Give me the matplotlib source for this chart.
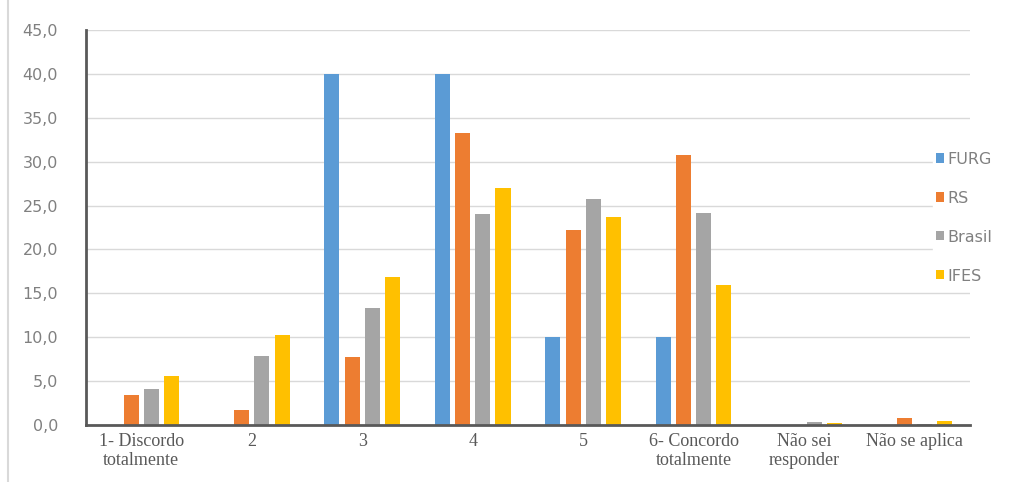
import numpy as np
import matplotlib.pyplot as plt
from matplotlib.lines import Line2D

categories = ['1- Discordo\ntotalmente', '2', '3', '4', '5',
              '6- Concordo\ntotalmente', 'Não sei\nresponder', 'Não se aplica']
furg = [0, 0, 40.0, 40.0, 10.0, 10.0, 0, 0]
rs = [3.4, 1.7, 7.7, 33.3, 22.2, 30.8, 0, 0.8]
brasil = [4.1, 7.9, 13.3, 24.0, 25.8, 24.2, 0.3, 0.1]
ifes = [5.6, 10.2, 16.9, 27.0, 23.7, 15.9, 0.2, 0.4]
series_names = ['FURG', 'RS', 'Brasil', 'IFES']
colors = ['#5B9BD5', '#ED7D31', '#A5A5A5', '#FFC000']

fig = plt.figure(figsize=(10.09, 4.82), dpi=100)
ax = fig.add_axes([0.0852, 0.1183, 0.876, 0.8195])

x = np.arange(len(categories))
width = 0.136   # bar width
pitch = 0.183   # distance between bars in a group
for i, (vals, name, c) in enumerate(zip([furg, rs, brasil, ifes], series_names, colors)):
    ax.bar(x + (i - 1.5) * pitch, vals, width, color=c, label=name, zorder=3)

ax.set_xlim(-0.5, len(categories) - 0.5)
ax.set_ylim(0, 45)
ax.set_yticks(np.arange(0, 46, 5))
ax.set_yticklabels([f'{v:.1f}'.replace('.', ',') for v in np.arange(0, 46, 5)],
                   family='DejaVu Sans', fontsize=11.5, color='#808080')
ax.set_xticks(x)
ax.set_xticklabels(categories, family='Liberation Serif', fontsize=13,
                   color='#595959', linespacing=1.1)
ax.tick_params(axis='y', length=0, pad=20)
ax.tick_params(axis='x', length=0, pad=6)

ax.grid(axis='y', color='#d9d9d9', linewidth=1, zorder=0)
for s in ['top', 'right']:
    ax.spines[s].set_visible(False)
for s in ['left', 'bottom']:
    ax.spines[s].set_color('#595959')
    ax.spines[s].set_linewidth(2)
    ax.spines[s].set_zorder(4)

leg = ax.legend(loc='center left', bbox_to_anchor=(0.958, 0.525), frameon=True,
                framealpha=1, edgecolor='white', handlelength=0.5, handleheight=0.5,
                handletextpad=0.2, labelspacing=1.5, borderpad=0.2, borderaxespad=0,
                prop={'family': 'DejaVu Sans', 'size': 11.5})
for t in leg.get_texts():
    t.set_color('#808080')
leg.set_zorder(5)

# thin frame line at the left border of the picture
fig.add_artist(Line2D([0.008, 0.008], [0, 1], color='#d9d9d9', linewidth=1.5))

fig.savefig('out.png', dpi=100)
